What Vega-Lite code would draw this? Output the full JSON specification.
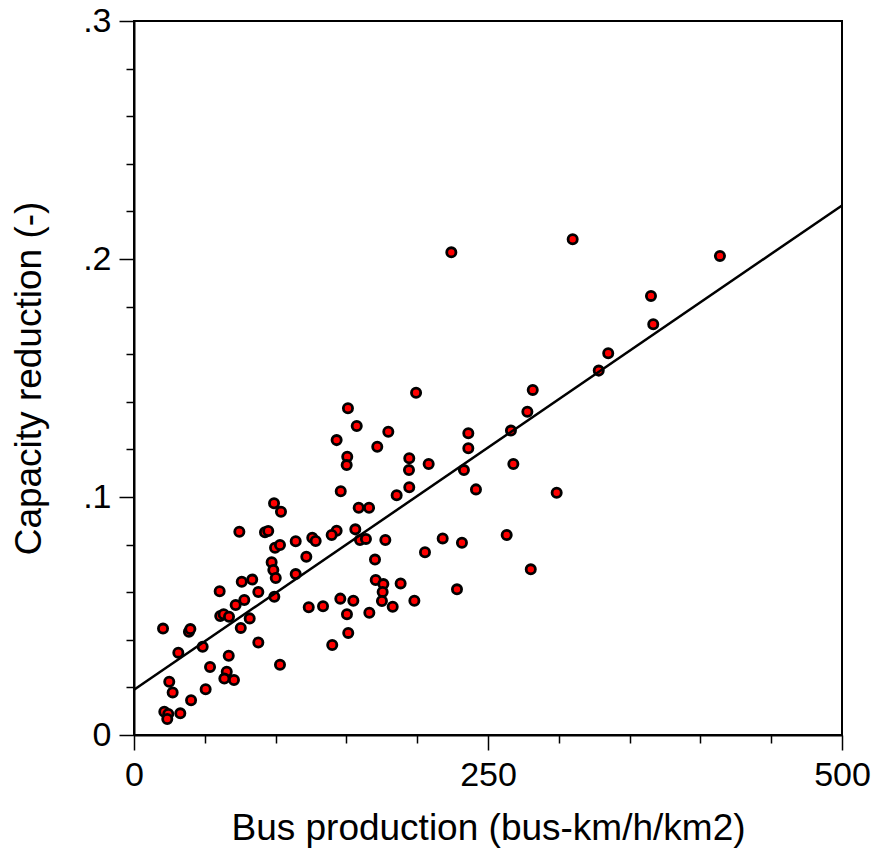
{
  "$schema": "https://vega.github.io/schema/vega-lite/v6.json",
  "width": 708,
  "height": 714,
  "autosize": {"type": "none"},
  "padding": {"left": 134, "top": 21, "right": 32, "bottom": 117},
  "background": "white",
  "config": {
    "view": {"stroke": "black", "strokeWidth": 2},
    "font": "Liberation Sans",
    "axis": {
      "grid": false,
      "domainColor": "black",
      "domainWidth": 2,
      "tickColor": "black",
      "tickWidth": 1.5,
      "labelColor": "black",
      "titleColor": "black",
      "labelFontSize": 34,
      "titleFontSize": 37,
      "titleFontWeight": "normal",
      "labelPadding": 8,
      "labelFlush": false,
      "labelBound": false,
      "labelOverlap": false
    }
  },
  "datasets": {
    "points": [
      {"x": 98.9, "y": 0.0974}, {"x": 103.8, "y": 0.0938}, {"x": 74.4, "y": 0.0854}, {"x": 92.5, "y": 0.0852},
      {"x": 94.8, "y": 0.0857}, {"x": 114.2, "y": 0.0814}, {"x": 99.6, "y": 0.0787}, {"x": 103.1, "y": 0.0798},
      {"x": 121.7, "y": 0.0749}, {"x": 97.2, "y": 0.0726}, {"x": 98.4, "y": 0.0693}, {"x": 100.1, "y": 0.066},
      {"x": 76.1, "y": 0.0644}, {"x": 83.5, "y": 0.0653}, {"x": 114.2, "y": 0.0676}, {"x": 60.5, "y": 0.0604},
      {"x": 87.8, "y": 0.0601}, {"x": 99.1, "y": 0.0581}, {"x": 71.8, "y": 0.0546}, {"x": 77.9, "y": 0.0567},
      {"x": 60.9, "y": 0.05}, {"x": 63.3, "y": 0.0507}, {"x": 67.1, "y": 0.0497}, {"x": 81.7, "y": 0.049},
      {"x": 75.4, "y": 0.045}, {"x": 123.4, "y": 0.0537}, {"x": 20.5, "y": 0.0447}, {"x": 38.8, "y": 0.0434},
      {"x": 39.8, "y": 0.0445}, {"x": 48.5, "y": 0.0371}, {"x": 87.8, "y": 0.0389}, {"x": 31.3, "y": 0.0346},
      {"x": 66.9, "y": 0.0333}, {"x": 53.7, "y": 0.0286}, {"x": 65.5, "y": 0.0266}, {"x": 63.8, "y": 0.0237},
      {"x": 70.6, "y": 0.0231}, {"x": 103.1, "y": 0.0295}, {"x": 24.9, "y": 0.0224}, {"x": 27.3, "y": 0.0179},
      {"x": 50.6, "y": 0.0192}, {"x": 40.3, "y": 0.0146}, {"x": 32.7, "y": 0.0091}, {"x": 21.4, "y": 0.0098},
      {"x": 24.2, "y": 0.0088}, {"x": 23.5, "y": 0.0067},
      {"x": 199.2, "y": 0.1438}, {"x": 151.1, "y": 0.1373}, {"x": 157.3, "y": 0.1298}, {"x": 179.6, "y": 0.1274},
      {"x": 143.1, "y": 0.1239}, {"x": 171.8, "y": 0.1211}, {"x": 236.1, "y": 0.1268}, {"x": 236.1, "y": 0.1205},
      {"x": 150.6, "y": 0.1169}, {"x": 150.2, "y": 0.1134}, {"x": 194.4, "y": 0.1163}, {"x": 194.2, "y": 0.1113},
      {"x": 208.1, "y": 0.1139}, {"x": 233.0, "y": 0.1113}, {"x": 241.5, "y": 0.1032}, {"x": 194.4, "y": 0.1041},
      {"x": 185.5, "y": 0.1007}, {"x": 146.0, "y": 0.1024}, {"x": 158.7, "y": 0.0955}, {"x": 166.0, "y": 0.0955},
      {"x": 143.1, "y": 0.0858}, {"x": 139.6, "y": 0.084}, {"x": 156.3, "y": 0.0864}, {"x": 159.6, "y": 0.0819},
      {"x": 163.8, "y": 0.0824}, {"x": 177.5, "y": 0.0819}, {"x": 218.0, "y": 0.0826}, {"x": 231.6, "y": 0.0808},
      {"x": 205.5, "y": 0.0768}, {"x": 125.9, "y": 0.0829}, {"x": 128.3, "y": 0.0815}, {"x": 170.2, "y": 0.0737},
      {"x": 170.7, "y": 0.0651}, {"x": 176.1, "y": 0.0634}, {"x": 188.3, "y": 0.0637}, {"x": 175.6, "y": 0.0601},
      {"x": 175.1, "y": 0.0563}, {"x": 182.7, "y": 0.0539}, {"x": 198.0, "y": 0.0564}, {"x": 228.1, "y": 0.0612},
      {"x": 145.7, "y": 0.0573}, {"x": 154.9, "y": 0.0564}, {"x": 133.5, "y": 0.0541}, {"x": 150.4, "y": 0.0507},
      {"x": 166.2, "y": 0.0514}, {"x": 151.3, "y": 0.0429}, {"x": 140.0, "y": 0.0378},
      {"x": 224.1, "y": 0.2028}, {"x": 309.8, "y": 0.2083}, {"x": 413.8, "y": 0.2013}, {"x": 365.1, "y": 0.1845},
      {"x": 366.7, "y": 0.1726}, {"x": 334.9, "y": 0.1604}, {"x": 328.2, "y": 0.1531}, {"x": 281.6, "y": 0.145},
      {"x": 277.8, "y": 0.1358}, {"x": 266.2, "y": 0.1279}, {"x": 267.9, "y": 0.1139}, {"x": 298.5, "y": 0.1018},
      {"x": 263.2, "y": 0.084}, {"x": 280.2, "y": 0.0696}
    ],
    "fit": [{"x": 0, "y": 0.019}, {"x": 500, "y": 0.2225}]
  },
  "layer": [
    {
      "data": {"name": "points"},
      "mark": {"type": "point", "shape": "circle", "filled": true, "fill": "#ff0000", "stroke": "black", "strokeWidth": 2.8, "size": 85, "opacity": 1},
      "encoding": {
        "x": {
          "field": "x", "type": "quantitative",
          "scale": {"domain": [0, 500], "nice": false},
          "axis": {
            "title": "Bus production (bus-km/h/km2)",
            "values": [0, 50, 100, 150, 200, 250, 300, 350, 400, 450, 500],
            "labelExpr": "datum.value % 250 === 0 ? datum.label : ''",
            "tickSize": {"condition": {"test": "datum.value % 250 === 0", "value": 15}, "value": 8},
            "titleY": 93,
            "titleBaseline": "middle"
          }
        },
        "y": {
          "field": "y", "type": "quantitative",
          "scale": {"domain": [0, 0.3], "nice": false},
          "axis": {
            "title": "Capacity reduction (-)",
            "values": [0, 0.02, 0.04, 0.06, 0.08, 0.1, 0.12, 0.14, 0.16, 0.18, 0.2, 0.22, 0.24, 0.26, 0.28, 0.3],
            "labelExpr": "datum.value == 0 ? '0' : (abs(datum.value*10 - round(datum.value*10)) < 0.001 ? '.' + round(datum.value*10) : '')",
            "tickSize": {"condition": {"test": "abs(datum.value*10 - round(datum.value*10)) < 0.001", "value": 15}, "value": 8},
            "titleX": -105,
            "titleY": 357,
            "titleAngle": -90,
            "titleAlign": "center",
            "titleBaseline": "middle"
          }
        }
      }
    },
    {
      "data": {"name": "fit"},
      "mark": {"type": "line", "color": "black", "strokeWidth": 2.5},
      "encoding": {
        "x": {"field": "x", "type": "quantitative"},
        "y": {"field": "y", "type": "quantitative"}
      }
    }
  ]
}
